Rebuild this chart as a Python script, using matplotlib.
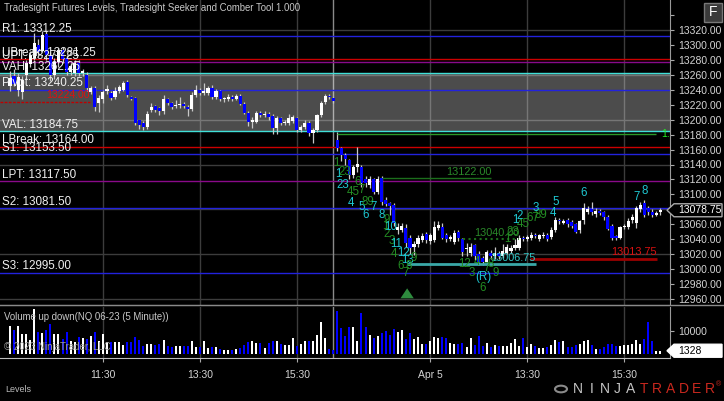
import matplotlib
matplotlib.use('Agg')
import matplotlib.pyplot as plt
import numpy as np
from matplotlib.patches import Polygon, Rectangle, Circle
from matplotlib.lines import Line2D

plt.rcParams['font.family'] = ['Liberation Sans', 'DejaVu Sans']

# ---------------- data ----------------
d1_open = [13245,13258,13240,13237,13260,13274,13283,13300,13292,13314,
           13286,13260,13277,13293,13283,13264,13262,13276,13262,13260,
           13237,13242,13222,13227,13238,13236,13231,13239,13240,13250,
           13230,13229,13199,13196,13190,13213,13218,13215,13212,13227,
           13222,13218,13219,13221,13217,13214,13233,13240,13236,13236,
           13242,13230,13238,13227,13228,13231,13228,13232,13221,13209,
           13197,13197,13209,13206,13208,13205,13189,13202,13195,13196,
           13198,13202,13186,13190,13196,13182,13186,13206,13223,13232,
           13229]
d1_close = [13256,13248,13257,13253,13276,13287,13302,13290,13313,13286,
            13260,13277,13293,13281,13264,13272,13276,13262,13265,13242,
            13242,13217,13229,13237,13241,13229,13238,13244,13249,13233,
            13228,13196,13193,13190,13208,13217,13213,13212,13228,13222,
            13217,13220,13221,13218,13214,13233,13240,13236,13238,13242,
            13230,13239,13228,13229,13231,13228,13232,13221,13209,13197,
            13199,13209,13206,13208,13204,13189,13202,13196,13197,13202,
            13203,13186,13190,13196,13182,13186,13206,13222,13232,13230,
            13225]
d1_high = [13265,13268,13262,13258,13280,13292,13316,13308,13318,13318,
           13290,13283,13296,13297,13286,13276,13280,13280,13268,13264,
           13245,13245,13233,13240,13246,13239,13244,13247,13252,13253,
           13232,13231,13200,13198,13212,13222,13220,13217,13233,13229,
           13224,13226,13230,13223,13219,13237,13246,13242,13249,13245,
           13246,13241,13240,13231,13234,13233,13235,13234,13223,13211,
           13203,13212,13211,13212,13210,13207,13205,13204,13200,13208,
           13206,13204,13193,13199,13198,13189,13208,13225,13234,13234,
           13231]
d1_low = [13238,13245,13232,13228,13255,13270,13280,13284,13290,13280,
          13252,13255,13270,13276,13260,13260,13258,13258,13258,13238,
          13234,13212,13210,13222,13234,13226,13228,13236,13238,13230,
          13226,13193,13188,13186,13187,13210,13210,13206,13208,13219,
          13214,13215,13216,13215,13205,13212,13230,13233,13233,13233,
          13228,13228,13225,13224,13225,13225,13226,13219,13207,13192,
          13189,13195,13203,13204,13200,13181,13181,13193,13193,13193,
          13195,13183,13183,13188,13178,13169,13184,13204,13221,13227,
          13222]

d2_open = [13173,13162,13153,13146,13126,13137,13137,13120,13112,13120,
           13103,13122,13093,13088,13086,13052,13053,13055,13042,13030,
           13033,13039,13047,13038,13039,13055,13057,13045,13040,13036,
           13049,13040,13027,13022,13032,13020,13015,13010,13022,13017,
           13022,13018,13022,13024,13028,13028,13042,13040,13041,13046,
           13040,13044,13046,13043,13053,13066,13062,13066,13063,13060,
           13052,13066,13076,13080,13074,13078,13076,13070,13058,13044,
           13042,13056,13056,13066,13062,13080,13088,13082,13076,13073,
           13076]
d2_close = [13162,13153,13147,13126,13137,13141,13115,13115,13120,13103,
            13120,13090,13087,13085,13062,13056,13058,13035,13028,13033,
            13042,13044,13039,13045,13056,13059,13042,13040,13043,13048,
            13041,13023,13028,13030,13018,13010,13010,13023,13017,13022,
            13017,13024,13030,13028,13032,13042,13040,13043,13046,13044,
            13045,13046,13040,13053,13066,13064,13064,13060,13058,13050,
            13064,13082,13080,13076,13078,13075,13070,13054,13042,13042,
            13056,13058,13064,13070,13082,13086,13072,13076,13073,13075,
            13078.75]
d2_high = [13183,13163,13155,13148,13140,13163,13140,13124,13124,13122,
           13124,13124,13096,13090,13088,13062,13062,13060,13045,13037,
           13045,13048,13050,13048,13064,13064,13062,13048,13046,13052,
           13052,13042,13035,13035,13034,13024,13017,13026,13025,13030,
           13024,13034,13033,13032,13040,13045,13044,13046,13049,13048,
           13047,13049,13048,13056,13070,13068,13067,13068,13066,13062,
           13066,13088,13084,13090,13082,13080,13078,13072,13060,13046,
           13058,13060,13068,13074,13085,13090,13093,13084,13080,13078,
           13082]
d2_low = [13158,13145,13140,13120,13122,13130,13110,13110,13108,13100,
          13100,13086,13084,13072,13058,13047,13050,13030,13020,13019,
          13030,13036,13035,13034,13036,13052,13040,13036,13038,13033,
          13038,13018,13018,13018,13012,13005,13006,13008,13014,13014,
          13014,13015,13020,13022,13026,13026,13037,13038,13039,13041,
          13038,13041,13037,13040,13050,13060,13060,13057,13055,13048,
          13048,13060,13074,13073,13070,13072,13066,13052,13039,13039,
          13040,13054,13054,13062,13055,13076,13070,13072,13070,13071,
          13072]

d1_volume = [12200,10300,12200,8400,8400,6000,19400,9400,8900,10300,
             12900,8400,8400,6500,9400,5500,4900,7400,7000,6500,
             7900,9400,5500,8400,4900,4900,4900,4900,3800,4900,
             4900,7400,6000,3400,4100,4100,3800,4100,6000,3400,
             2900,3400,3400,3400,3400,5500,2900,2900,5500,2500,
             2900,2900,2000,1800,1800,1800,2000,2500,3800,4900,
             5500,4500,4500,2500,4500,5500,5500,4100,3800,3800,
             6700,3400,4100,5500,5500,5500,8100,13700,6700,2000,
             1500]
d2_volume = [18600,11000,7700,11600,11600,5500,17900,11600,8100,7000,
             7700,8900,9900,8100,10700,9600,10300,6500,8900,6500,
             7400,4100,4100,5500,7200,6700,7200,6700,4500,4100,
             4100,4500,2900,6700,3800,7700,3300,4500,2900,3800,
             3400,3400,3400,4500,6500,3400,6700,2900,4100,3400,
             2500,2500,2900,3800,6000,4900,5500,2900,2900,3800,
             4100,5500,6000,3800,2000,2000,2900,4100,4100,3400,
             3400,3800,3800,4100,6000,4100,6500,13700,5500,1000,
             1328]

level_names = ["R1", "UBreak", "UPT", "VAH", "Pivot", "VAL", "LBreak", "S1", "LPT", "S2", "S3"]
level_values = [13312.25, 13281.25, 13277.25, 13262.25, 13240.25, 13184.75,
                13164.00, 13153.50, 13117.50, 13081.50, 12995.00]
level_colors = ['#2222dd', '#cc0000', '#8a0a8a', '#40e0d8', '#2222dd', '#40e0d8',
                '#cc0000', '#2222dd', '#8a0a8a', '#2222dd', '#2222dd']

bars_per_day = 81
first_bar_minute = 9 * 60 + 35
tick_times = ["11:30", "13:30", "15:30", "11:30", "13:30", "15:30"]
tick_days = [0, 0, 0, 1, 1, 1]
tick_labels = ["11:30", "13:30", "15:30", "Apr 5", "13:30", "15:30"]
price_ticks = list(range(12960, 13321, 20))

last_price = 13078.75
last_volume = 1328

# Seeker / Comber counts: (text, bar, price, kind)
counts = [
    ("1", 80.9, 13142, 'g'), ("1", 81.2, 13127, 'c'), ("23", 82.9, 13130, 'g'),
    ("23", 82.4, 13112, 'c'), ("45", 84.9, 13103, 'g'), ("6", 86.1, 13117, 'g'),
    ("7", 87.1, 13106, 'g'), ("4", 84.4, 13088, 'c'), ("5", 87.1, 13083, 'c'),
    ("6", 88.1, 13072, 'c'), ("89", 88.6, 13090, 'g'), ("7", 90.1, 13083, 'c'),
    ("8", 92.1, 13072, 'c'), ("9", 93.3, 13066, 'g'), ("1", 92.8, 13058, 'g'),
    ("2", 93.3, 13047, 'g'), ("3", 94.6, 13038, 'g'), ("10", 94.3, 13056, 'c'),
    ("11", 95.5, 13034, 'c'), ("4", 95.0, 13020, 'g'), ("12", 97.3, 13022, 'c'),
    ("13", 98.3, 13012, 'c'), ("9", 100.0, 13015, 'g'), ("6", 96.8, 13004, 'g'),
    ("8", 98.8, 13004, 'g'), ("7", 98.0, 12995, 'g'),
    ("12", 112.6, 13007, 'g'), ("3", 114.4, 12995, 'g'), ("4", 115.6, 13010, 'g'),
    ("(R)", 117.1, 12989, 'c'), ("6", 117.1, 12975, 'g'), ("7", 118.1, 13002, 'g'),
    ("8", 119.1, 13007, 'g'), ("9", 120.3, 12995, 'g'),
    ("1", 123.0, 13040, 'g'), ("23", 124.5, 13050, 'g'), ("45", 127.0, 13060, 'g'),
    ("67", 129.5, 13068, 'g'), ("89", 131.4, 13072, 'g'),
    ("1", 125.0, 13066, 'c'), ("2", 126.2, 13071, 'c'), ("3", 130.2, 13082, 'c'),
    ("4", 134.4, 13075, 'c'), ("5", 135.1, 13090, 'c'), ("6", 142.1, 13102, 'c'),
    ("7", 155.2, 13097, 'c'), ("8", 157.2, 13105, 'c'),
]
# zone lines: (value, start bar, end bar, line color, text color, style, lw)
zones = [
    (13122.00, 92.1, 119.1, '#1c6e1c', '#2a8a2a', '-', 1.0),
    (13040.00, 112.1, 126.0, '#1c6e1c', '#2a8a2a', ':', 1.5),
    (13006.75, 98.3, 130.2, '#3aa8a8', '#30c8c8', '-', 2.0),
    (13013.75, 128.7, 160.1, '#9a0000', '#dd1111', '-', 2.0),
]
prior_level = 13224.00
trend_level = 13181.0
signal_bar = 98.3

# ---------------- figure ----------------
W, H = 724, 401
fig = plt.figure(figsize=(W / 100, H / 100), dpi=100, facecolor='black')

def fx(px):
    return px / W

def fy(py):
    return 1 - py / H

ax = fig.add_axes([0, fy(305), fx(670), 305 / H])
axv = fig.add_axes([0, fy(358), fx(670), (358 - 307) / H])
for a in (ax, axv):
    a.set_facecolor('black')

opens = np.array(d1_open + d2_open, float)
closes = np.array(d1_close + d2_close, float)
highs = np.array(d1_high + d2_high, float)
lows = np.array(d1_low + d2_low, float)
vols = np.array(d1_volume + d2_volume, float)
n = len(opens)
xs = np.arange(n)
up = closes >= opens

px_per_bar = 4.04
xmin = -10 / px_per_bar
xmax = xmin + 670 / px_per_bar
ax.set_xlim(xmin, xmax)
axv.set_xlim(xmin, xmax)
ppu = 269 / 360.0
ax.set_ylim(13320 - 275 / ppu, 13320 + 30 / ppu)
vpp = 433.6
axv.set_ylim(-(358 - 353.8) * vpp, (353.8 - 307) * vpp)

tick_pos = []
for t, d in zip(tick_times, tick_days):
    hh, mm = map(int, t.split(':'))
    tick_pos.append(d * bars_per_day + (hh * 60 + mm - first_bar_minute) / 5)

grid_c = '#3c3c3c'
for v in range(12960, 13330, 60):
    ax.axhline(v, color=grid_c, lw=1, zorder=0)
for p in tick_pos:
    ax.axvline(p, color=grid_c, lw=1, zorder=0)
    axv.axvline(p, color=grid_c, lw=1, zorder=0)
ax.axvline(bars_per_day - 1, color='#8a8a8a', lw=1, zorder=0.5)
axv.axvline(bars_per_day - 1, color='#8a8a8a', lw=1, zorder=0.5)

# value area shading
vah = level_values[level_names.index("VAH")]
val = level_values[level_names.index("VAL")]
ax.axhspan(val, vah, color='white', alpha=0.3, lw=0, zorder=1)

for name, v, c in zip(level_names, level_values, level_colors):
    ax.axhline(v, color=c, lw=1, zorder=2)
    ax.annotate(f"{name}: {v:.2f}", xy=(0, v), xycoords=('axes fraction', 'data'),
                xytext=(1.5, 0.3), textcoords='offset points', ha='left', va='bottom',
                color='#f0f0f0', fontsize=8.4, zorder=7)

# prior level (red dotted at left)
ax.hlines(prior_level, xmin, 19.8, color='#c00000', lw=1, linestyles=(0, (2, 1)), zorder=2)
ax.annotate(f"{prior_level:.2f}", xy=(19.8, prior_level), xytext=(0, 1), textcoords='offset points',
            ha='right', va='bottom', color='#e01010', fontsize=7.5, zorder=7)

# candles
body_lo = np.minimum(opens, closes)
body_hi = np.maximum(opens, closes)
body_h = np.maximum(body_hi - body_lo, 1.3)
ax.vlines(xs, np.minimum(lows, body_lo), np.maximum(highs, body_hi), color='#c8c8c8', lw=0.9, zorder=3)
ax.bar(xs, body_h, bottom=body_lo, width=0.78, color=np.where(up, '#ffffff', '#0000ff'),
       linewidth=0, zorder=4)

# trend line at top of day 2
ax.hlines(trend_level, bars_per_day, 159.9, color='#2a9a2a', lw=1, zorder=3)
ax.text(161.2, trend_level, "1.", color='#22ee22', fontsize=7.5, va='center', ha='left', zorder=7)

for v, b0, b1, lc, tc, ls, lw in zones:
    ax.hlines(v, b0, b1, color=lc, lw=lw, linestyles=ls, zorder=5)
    ax.annotate(f"{v:.2f}", xy=(b1, v), xytext=(0, 1), textcoords='offset points',
                ha='right', va='bottom', color=tc, fontsize=7.8, zorder=6)

for t, b, p, k in counts:
    ax.text(b, p, t, color=('#238c23' if k == 'g' else '#1ec8d2'), fontsize=8.3,
            ha='center', va='center', zorder=6)

ax.annotate('', xy=(signal_bar, 12978), xytext=(signal_bar, 12959),
            arrowprops=dict(arrowstyle='simple,head_width=0.8,head_length=0.6,tail_width=0.3',
                            color='#2e8b3e', lw=0, mutation_scale=12), zorder=6)

# price axis
ax.yaxis.tick_right()
ax.set_yticks(price_ticks + [13340])
ax.set_yticklabels([f"{v:.2f}" for v in price_ticks] + [""])
ax.tick_params(axis='y', colors='#aaaaaa', labelcolor='#d4d4d4', labelsize=7.5, length=3, pad=3, width=0.8)
ax.tick_params(axis='x', bottom=False, labelbottom=False)
for s in ['left', 'top']:
    ax.spines[s].set_visible(False)
ax.spines['right'].set_color('#9a9a9a')
ax.spines['bottom'].set_color('#8a8a8a')

# volume
axv.bar(xs, vols, width=0.5, color=np.where(up, '#ffffff', '#0000ff'), linewidth=0, zorder=3)
axv.yaxis.tick_right()
axv.set_yticks([10000])
axv.set_yticklabels(["10000"])
axv.tick_params(axis='y', colors='#aaaaaa', labelcolor='#d4d4d4', labelsize=7.5, length=3, pad=3, width=0.8)
axv.set_xticks(tick_pos)
axv.set_xticklabels(tick_labels)
axv.tick_params(axis='x', colors='#aaaaaa', labelcolor='#d4d4d4', labelsize=7.5, length=3, pad=6, width=0.8)
for s in ['left', 'top']:
    axv.spines[s].set_visible(False)
axv.spines['right'].set_color('#9a9a9a')
axv.spines['bottom'].set_color('#bbbbbb')

fig.add_artist(Line2D([0, 1], [fy(305), fy(305)], color='#8a8a8a', lw=1, transform=fig.transFigure))

# value tags
def tag(axis, value, text, fc, ec, tc):
    fig.canvas.draw()
    ydisp = axis.transData.transform((0, value))[1]
    yp = H - ydisp
    pts = [(667, yp), (674, yp - 6.5), (722, yp - 6.5), (722, yp + 6.5), (674, yp + 6.5)]
    fig.add_artist(Polygon([(fx(a), fy(b)) for a, b in pts], closed=True, fc=fc, ec=ec, lw=1,
                           transform=fig.transFigure, zorder=10))
    fig.text(fx(678), fy(yp), text, color=tc, fontsize=7.5, va='center', ha='left', zorder=11)

tag(ax, last_price, f"{last_price:.2f}", 'black', '#aaaaaa', 'white')
tag(axv, last_volume, f"{last_volume}", 'white', 'white', 'black')

# F button
fig.add_artist(Rectangle((fx(704), fy(22)), fx(18), 19 / H, fc='#3a3a3a', ec='#777777', lw=1,
                         transform=fig.transFigure, zorder=10))
fig.text(fx(713), fy(12.5), "F", color='white', fontsize=10, ha='center', va='center', zorder=11)

# texts
fig.text(fx(4), fy(8), "Tradesight Futures Levels, Tradesight Seeker and Comber Tool 1.000",
         color='#c8c8c8', fontsize=6.9, va='center', ha='left')
fig.text(fx(4), fy(317), "Volume up down(NQ 06-23 (5 Minute))", color='#c8c8c8', fontsize=6.9,
         va='center', ha='left')
fig.text(fx(4), fy(347), "© 2023 NinjaTrader, LLC", color='#9a9a9a', fontsize=7, va='center', ha='left',
         zorder=12)
fig.text(fx(5), fy(390), "Levels", color='#bbbbbb', fontsize=6.5, va='center', ha='left')

# NinjaTrader logo
fig.add_artist(Circle((fx(561), fy(389)), 6 / W, fc='none', ec='#8a8a8a', lw=1.5, transform=fig.transFigure))
for k, ch in enumerate("NINJATRADER"):
    fig.text(fx(578 + k * 13.2), fy(389), ch, color=('#c4c4c4' if k < 5 else '#c8281e'),
             fontsize=10, ha='center', va='center', fontweight='light')
fig.text(fx(719), fy(385), "®", color='#c8281e', fontsize=5, ha='center', va='center')

fig.savefig('out.png', dpi=100, facecolor='black')
